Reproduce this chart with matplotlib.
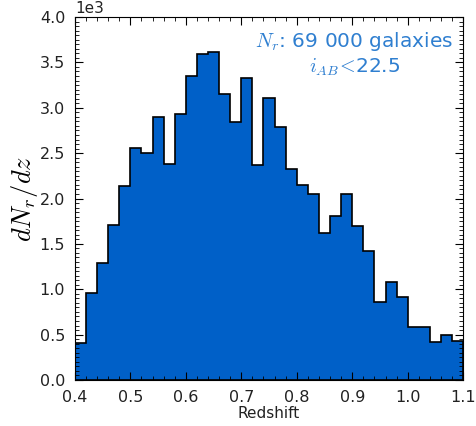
import numpy as np
import matplotlib
matplotlib.use('Agg')
import matplotlib.pyplot as plt
from matplotlib.ticker import MultipleLocator

# Redshift bins (width 0.02) and counts (units of 1e3)
bin_edges = np.round(np.arange(0.40, 1.10001, 0.02), 2)
counts = [0.41, 0.96, 1.29, 1.71, 2.14, 2.56, 2.50, 2.90, 2.38, 2.93,
          3.35, 3.59, 3.61, 3.15, 2.84, 3.33, 2.37, 3.11, 2.79, 2.33,
          2.15, 2.05, 1.62, 1.81, 2.05, 1.70, 1.42, 0.86, 1.08, 0.92,
          0.58, 0.58, 0.42, 0.50, 0.43]
counts = np.array(counts) * 1000

plt.rcParams['mathtext.fontset'] = 'cm'

fig = plt.figure(figsize=(4.77, 4.26), dpi=100)
ax = fig.add_axes([0.157, 0.108, 0.814, 0.852])

ax.hist(bin_edges[:-1], bins=bin_edges, weights=counts, histtype='stepfilled',
        facecolor='#0060c8', edgecolor='black', linewidth=1.2)

ax.set_xlim(0.4, 1.1)
ax.set_ylim(0, 4000)
ax.xaxis.set_major_locator(MultipleLocator(0.1))
ax.xaxis.set_minor_locator(MultipleLocator(0.02))
ax.yaxis.set_major_locator(MultipleLocator(500))
ax.yaxis.set_minor_locator(MultipleLocator(50))
ax.ticklabel_format(axis='y', style='sci', scilimits=(3, 3))
ax.tick_params(which='both', direction='in', top=True, right=True,
               labelsize=11.5, labelcolor='#222222', pad=7)
ax.tick_params(which='major', length=6)
ax.tick_params(which='minor', length=3)
ax.yaxis.get_offset_text().set_fontsize(11)

ax.set_xlabel('Redshift', fontsize=11, labelpad=1, color='#222222')
ax.set_ylabel(r'$dN_r/dz$', fontsize=19, labelpad=0)

ax.text(0.975, 0.965, r'$N_r$: 69 000 galaxies' + '\n' + r'$i_{AB}\!<\!$22.5',
        transform=ax.transAxes, ha='right', va='top', multialignment='center',
        fontsize=14.5, color='#2f7fd0', linespacing=1.25)

plt.savefig('out.png', dpi=100)
